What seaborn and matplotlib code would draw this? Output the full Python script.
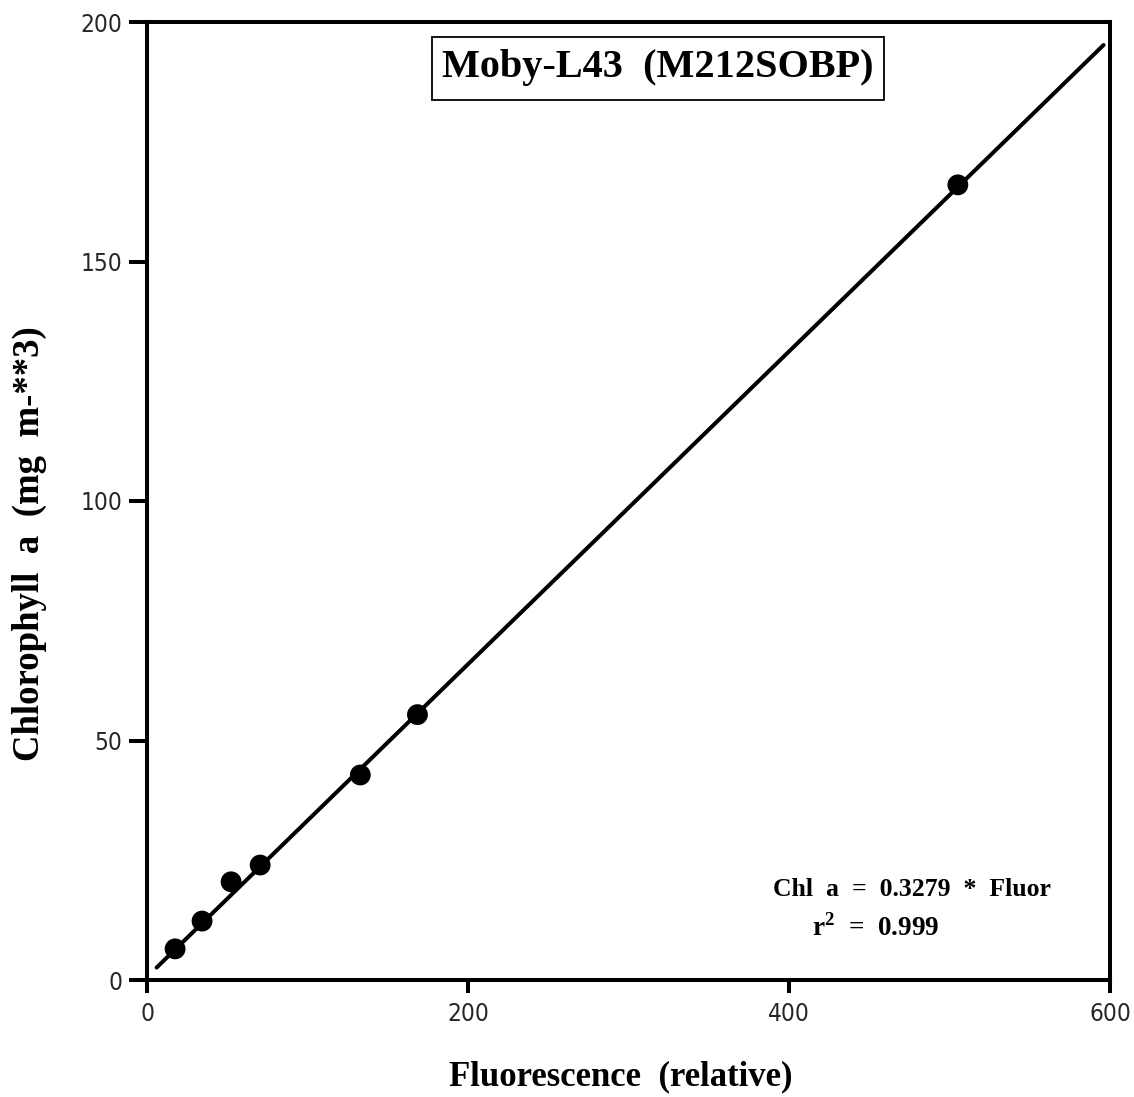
import matplotlib
matplotlib.use("Agg")
import matplotlib.pyplot as plt
from matplotlib.patches import Rectangle
import seaborn as sns

# ---- data ----
fluor = [17.5, 34.3, 52.4, 70.5, 132.9, 168.5, 505.2]
chl = [6.5, 12.3, 20.5, 24.0, 42.8, 55.4, 166.0]
fit_fluor = [6.0, 596.0]
fit_chl = [2.6, 195.2]
x_ticks = [0, 200, 400, 600]
y_ticks = [0, 50, 100, 150, 200]
title = "Moby-L43  (M212SOBP)"
xlabel = "Fluorescence  (relative)"
ylabel = "Chlorophyll  a  (mg  m-**3)"
eq_text = "Chl  a  =  0.3279  *  Fluor"
r2_text = r"r$^{\mathbf{2}}$  =  0.999"

sns.set_theme(style="white")
plt.rcParams["font.family"] = ["Liberation Serif", "DejaVu Serif"]
plt.rcParams["mathtext.fontset"] = "custom"
plt.rcParams["mathtext.bf"] = "Liberation Serif:bold"
plt.rcParams["mathtext.rm"] = "Liberation Serif:bold"

W, H = 1134, 1097
fig = plt.figure(figsize=(W / 100, H / 100), dpi=100)
fig.patch.set_facecolor("white")

def fx(px):
    return px / W

def fy(py):
    return 1 - py / H

ax = fig.add_axes([fx(147), fy(980), (1110 - 147) / W, (980 - 22) / H])
ax.set_facecolor("white")

sns.lineplot(x=fit_fluor, y=fit_chl, ax=ax, color="black", linewidth=2.9)
sns.scatterplot(x=fluor, y=chl, ax=ax, color="black", s=225,
                edgecolor="none", linewidth=0, zorder=3)

ax.set_xlim(0, 600)
ax.set_ylim(0, 200)
ax.set_xticks(x_ticks)
ax.set_yticks(y_ticks)
ax.set_xlabel("")
ax.set_ylabel("")

for s in ax.spines.values():
    s.set_visible(True)
    s.set_linewidth(2.9)
    s.set_color("black")

ax.tick_params(axis="y", direction="out", length=13, width=2.9, color="black",
               pad=5, left=True)
ax.tick_params(axis="x", direction="out", length=9.5, width=2.9, color="black",
               pad=6, bottom=True)
for lab in ax.get_xticklabels() + ax.get_yticklabels():
    lab.set_family(["DejaVu Sans"])
    lab.set_stretch("condensed")
    lab.set_fontsize(17.5)
    lab.set_color("#262626")

# title box
fig.text(fx(658), fy(68), title, ha="center", va="center", fontsize=29,
         fontweight="bold", color="black", zorder=5)
fig.patches.append(Rectangle((fx(432), fy(100)), fx(884) - fx(432),
                             fy(37) - fy(100), transform=fig.transFigure,
                             fill=True, facecolor="white", edgecolor="black",
                             linewidth=1.3, zorder=4))

# equation
fig.text(fx(773), fy(889), eq_text, ha="left", va="center", fontsize=18.5,
         fontweight="bold", color="black")
fig.text(fx(812), fy(928), r2_text, ha="left", va="center", fontsize=19.5,
         fontweight="bold", color="black")

# axis labels
fig.text(fx(621), fy(1077), xlabel, ha="center", va="center", fontsize=25,
         fontweight="bold", color="black")
fig.text(fx(29), fy(544), ylabel, ha="center", va="center", fontsize=26.5,
         fontweight="bold", color="black", rotation=90)

fig.savefig("out.png", dpi=100, facecolor="white")
